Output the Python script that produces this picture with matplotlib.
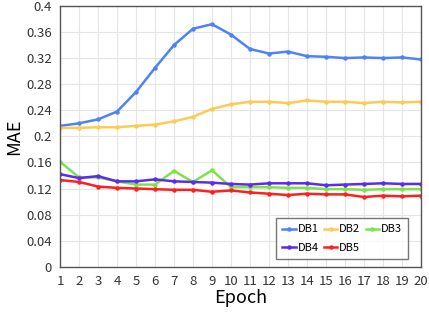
import matplotlib
matplotlib.use('Agg')
import matplotlib.pyplot as plt

plt.rcParams['font.family'] = ['Noto Sans CJK SC', 'DejaVu Sans']

epochs = list(range(1, 21))
db1 = [0.216, 0.220, 0.226, 0.238, 0.268, 0.305, 0.340, 0.365, 0.372, 0.356,
       0.334, 0.327, 0.330, 0.323, 0.322, 0.320, 0.321, 0.320, 0.321, 0.318]
db2 = [0.213, 0.213, 0.214, 0.214, 0.216, 0.218, 0.223, 0.230, 0.242, 0.249,
       0.253, 0.253, 0.251, 0.255, 0.253, 0.253, 0.251, 0.253, 0.252, 0.253]
db3 = [0.161, 0.137, 0.137, 0.131, 0.126, 0.126, 0.147, 0.130, 0.148, 0.122,
       0.122, 0.122, 0.121, 0.121, 0.119, 0.119, 0.118, 0.119, 0.119, 0.119]
db4 = [0.142, 0.136, 0.139, 0.131, 0.131, 0.134, 0.131, 0.130, 0.129, 0.127,
       0.126, 0.128, 0.128, 0.128, 0.125, 0.126, 0.127, 0.128, 0.127, 0.127]
db5 = [0.133, 0.130, 0.123, 0.121, 0.120, 0.119, 0.118, 0.118, 0.115, 0.117,
       0.114, 0.112, 0.110, 0.112, 0.111, 0.111, 0.107, 0.109, 0.108, 0.109]

names = ['DB1', 'DB2', 'DB3', 'DB4', 'DB5']
colors = ['#4f81f7', '#fdcb55', '#7ee34a', '#5b2cf0', '#ff1f1f']
yticks = [0, 0.04, 0.08, 0.12, 0.16, 0.2, 0.24, 0.28, 0.32, 0.36, 0.4]

fig = plt.figure(figsize=(4.29, 3.12), dpi=100)
ax = fig.add_axes([0.14, 0.145, 0.841, 0.836])

lines = []
for ys, name, c in zip([db1, db2, db3, db4, db5], names, colors):
    l, = ax.plot(epochs, ys, color=c, lw=1.8, marker='o', ms=2.2, label=name)
    lines.append(l)

ax.set_xlim(1, 20)
ax.set_ylim(0, 0.4)
ax.set_xticks(epochs)
ax.set_yticks(yticks)
ax.set_yticklabels(['0' if v == 0 else ('%g' % v) for v in yticks])
ax.grid(True, color='#e3e6e6', lw=0.8)
ax.set_axisbelow(True)
for s in ax.spines.values():
    s.set_color('#555555')
    s.set_linewidth(1.0)
ax.tick_params(length=0, labelsize=9.5, colors='#333333', pad=6)

ax.set_xlabel('Epoch', fontsize=13, labelpad=1)
ax.set_ylabel('MAE', fontsize=13, labelpad=2)

# reorder so the legend reads row by row like the original
order = [0, 3, 1, 4, 2]
leg = ax.legend([lines[i] for i in order], [names[i] for i in order],
                ncol=3, loc='lower right', bbox_to_anchor=(0.964, 0.03),
                fontsize=8, frameon=True, fancybox=False, handlelength=1.2,
                handletextpad=0.15, columnspacing=0.5, borderpad=0.55,
                labelspacing=0.75, borderaxespad=0)
leg.get_frame().set_edgecolor('#555555')
leg.get_frame().set_linewidth(1.0)

fig.savefig('out.png', dpi=100)
